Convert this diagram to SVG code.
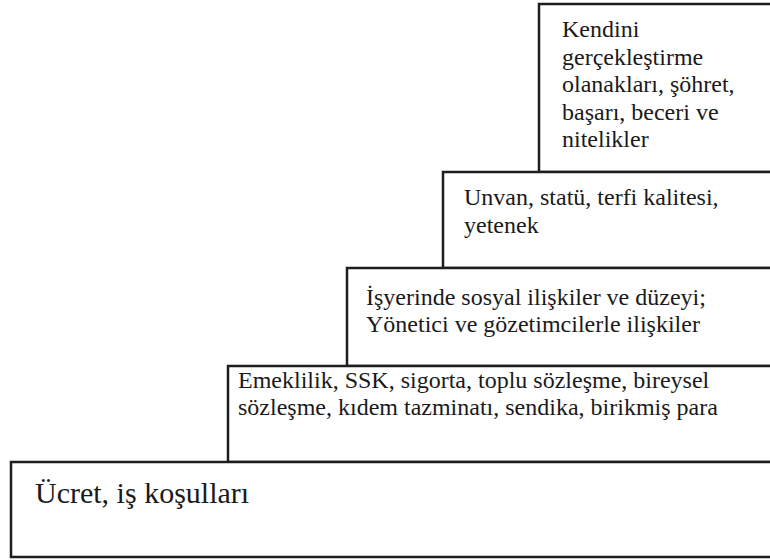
<svg xmlns="http://www.w3.org/2000/svg" width="770" height="560" viewBox="0 0 770 560">
  <style>
    .box { fill: #ffffff; stroke: #1e1e1e; stroke-width: 2.5; }
    .t { font-family: 'Liberation Serif', serif; font-size: 24px; fill: #1a1a1a; }
    .big { font-size: 30px; }
  </style>
  <rect x="0" y="0" width="770" height="560" fill="#ffffff"/>
  <g id="connectors"></g>
  <g id="node-1">
    <rect class="box" x="539" y="4" width="240" height="168"/>
    <text class="t" x="562" y="37">Kendini</text>
    <text class="t" x="562" y="64.5">gerçekleştirme</text>
    <text class="t" x="562" y="92">olanakları, şöhret,</text>
    <text class="t" x="562" y="119.5">başarı, beceri ve</text>
    <text class="t" x="562" y="147">nitelikler</text>
  </g>
  <g id="node-2">
    <rect class="box" x="443" y="172" width="336" height="96"/>
    <text class="t" x="464" y="205">Unvan, statü, terfi kalitesi,</text>
    <text class="t" x="464" y="233">yetenek</text>
  </g>
  <g id="node-3">
    <rect class="box" x="347" y="268" width="432" height="98"/>
    <text class="t" x="366" y="305">İşyerinde sosyal ilişkiler ve düzeyi;</text>
    <text class="t" x="366" y="332">Yönetici ve gözetimcilerle ilişkiler</text>
  </g>
  <g id="node-4">
    <rect class="box" x="228" y="366" width="551" height="96"/>
    <text class="t" x="238" y="388">Emeklilik, SSK, sigorta, toplu sözleşme, bireysel</text>
    <text class="t" x="238" y="415">sözleşme, kıdem tazminatı, sendika, birikmiş para</text>
  </g>
  <g id="node-5">
    <rect class="box" x="11" y="462" width="768" height="95"/>
    <text class="t big" x="35" y="503">Ücret, iş koşulları</text>
  </g>
</svg>
